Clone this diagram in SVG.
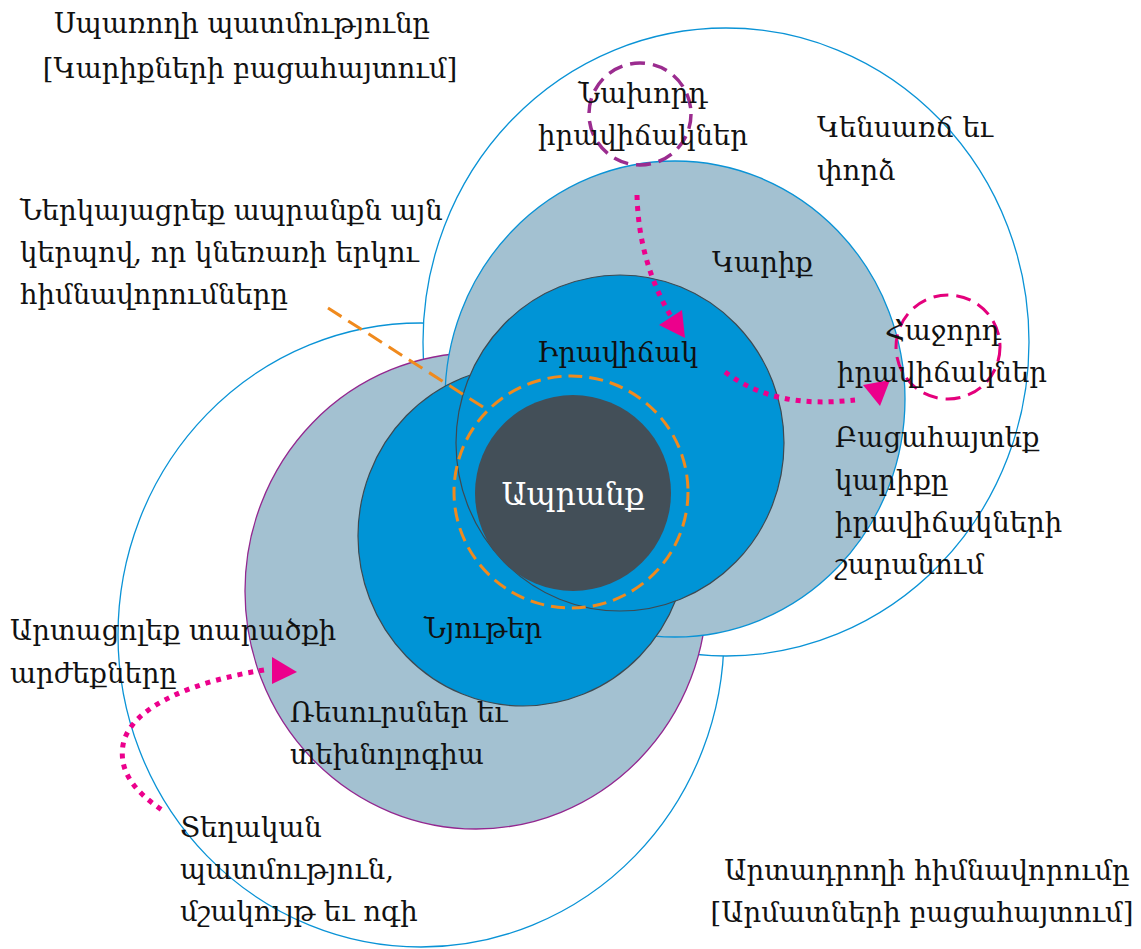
<svg xmlns="http://www.w3.org/2000/svg" width="1141" height="949" viewBox="0 0 1141 949">
<style>
.t{font-family:"DejaVu Serif","Noto Serif","Liberation Serif",serif;font-size:27.5px;fill:#111;}
.c{text-anchor:middle;}
.w{fill:#fff;stroke:#0a93d6;stroke-width:1.3;}
.g{fill:#a3c1d1;}
.b{fill:#0094d6;stroke:#3d4a52;stroke-width:1.2;}
.dot{fill:none;stroke:#ec008c;stroke-width:5;stroke-dasharray:5 6;}
.ah{fill:#ec008c;}
</style>
<rect width="1141" height="949" fill="#fff"/>
<g id="circles">
<ellipse id="outer-bottom" class="w" cx="421" cy="635" rx="303" ry="312"/>
<ellipse id="outer-top" class="w" cx="726" cy="342" rx="303" ry="314"/>
<ellipse id="resources" class="g" cx="476" cy="591" rx="231" ry="238" stroke="#93278f" stroke-width="1.3"/>
<ellipse id="need" class="g" cx="675" cy="399" rx="230" ry="238" stroke="#0a93d6" stroke-width="1.3"/>
<ellipse id="materials" class="b" cx="523" cy="536" rx="165" ry="170"/>
<ellipse id="situation" class="b" cx="620" cy="443" rx="164" ry="168"/>
<circle id="product" cx="573" cy="493" r="98" fill="#434f58"/>
<ellipse cx="571" cy="492" rx="117" ry="116" fill="none" stroke="#f08a1d" stroke-width="3" stroke-dasharray="14 7"/>
<circle id="prev-sit" cx="640" cy="114" r="51" fill="none" stroke="#9b2c8f" stroke-width="3.5" stroke-dasharray="15 8"/>
<circle id="next-sit" cx="948" cy="347" r="52" fill="none" stroke="#e4007c" stroke-width="3" stroke-dasharray="15 8"/>
</g>
<g id="connectors">
<line x1="328" y1="308" x2="486" y2="409" stroke="#f08a1d" stroke-width="3" stroke-dasharray="16 8"/>
<path class="dot" d="M637,195 C638,240 650,282 672,318"/>
<polygon class="ah" points="685,338 659,325 682,310"/>
<path class="dot" d="M725,372 C760,398 800,406 855,400"/>
<polygon class="ah" points="880,406 863,385 890,380"/>
<path class="dot" d="M264,670 C200,680 130,705 123,745 C118,775 140,795 162,810"/>
<polygon class="ah" points="297,672 272,657 272,684"/>
</g>
<g id="labels">
<text class="t c" x="242" y="33">Սպառողի պատմությունը</text>
<text class="t c" x="250" y="78">[Կարիքների բացահայտում]</text>
<text class="t c" x="643" y="103">Նախորդ</text>
<text class="t c" x="643" y="145">իրավիճակներ</text>
<text class="t" x="817" y="137">Կենսառճ եւ</text>
<text class="t" x="817" y="180">փորձ</text>
<text class="t" x="20" y="220">Ներկայացրեք ապրանքն այն</text>
<text class="t" x="20" y="262">կերպով, որ կնեռառի երկու</text>
<text class="t" x="20" y="304">հիմնավորումները</text>
<text class="t" x="712" y="272">Կարիք</text>
<text class="t" x="537" y="362">Իրավիճակ</text>
<text class="t c" x="943" y="340">Հաջորդ</text>
<text class="t c" x="942" y="382">իրավիճակներ</text>
<text class="t" x="835" y="447">Բացահայտեք</text>
<text class="t" x="835" y="490">կարիքը</text>
<text class="t" x="835" y="532">իրավիճակների</text>
<text class="t" x="835" y="574">շարանում</text>
<text class="t c" x="573" y="505" style="fill:#fff;font-size:31px">Ապրանք</text>
<text class="t" x="424" y="638">Նյութեր</text>
<text class="t" x="10" y="640">Արտացոլեք տարածքի</text>
<text class="t" x="10" y="683">արժեքները</text>
<text class="t" x="290" y="722">Ռեսուրսներ եւ</text>
<text class="t" x="290" y="764">տեխնոլոգիա</text>
<text class="t" x="180" y="837">Տեղական</text>
<text class="t" x="180" y="879">պատմություն,</text>
<text class="t" x="180" y="921">մշակույթ եւ ոգի</text>
<text class="t c" x="927" y="880">Արտադրողի հիմնավորումը</text>
<text class="t c" x="922" y="922">[Արմատների բացահայտում]</text>
</g>
</svg>
